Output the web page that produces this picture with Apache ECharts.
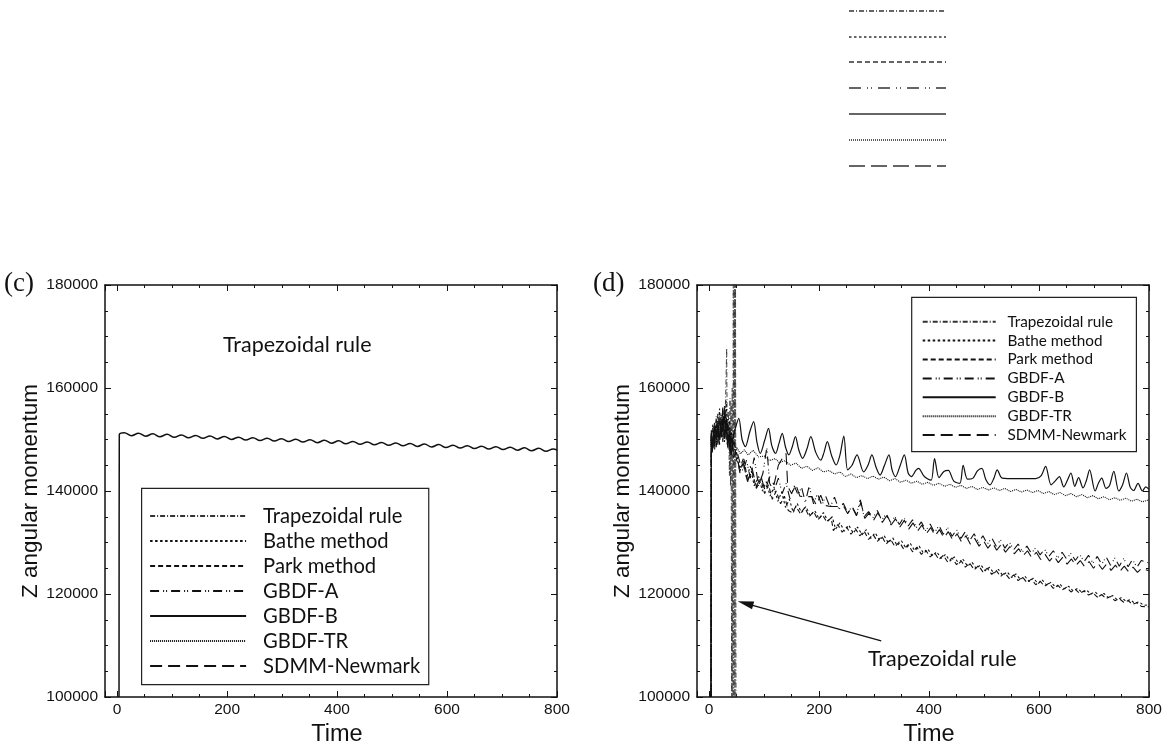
<!DOCTYPE html>
<html>
<head>
<meta charset="utf-8">
<script src="https://cdn.jsdelivr.net/npm/echarts/dist/echarts.min.js"></script>
<style>html,body{margin:0;padding:0;background:#fff}#main{width:1175px;height:743px}</style>
</head>
<body>
<div id="main"></div>
<script>
// legend order, same for both panels
var methodNames = ['Trapezoidal rule', 'Bathe method', 'Park method', 'GBDF-A', 'GBDF-B', 'GBDF-TR', 'SDMM-Newmark'];

// panel (c): the curves all lie on top of each other
var curveC = [[3.5,100000],[4,150900],[13,151300],[26,150750],[39,151200],[52,150650],[65,151100],[78,150550],[91,151000],[104,150430],[117,150880],[130,150330],[143,150780],[156,150230],[169,150670],[182,150120],[195,150570],[208,150020],[221,150460],[234,149910],[247,150360],[260,149810],[273,150260],[286,149700],[299,150150],[312,149600],[325,150050],[338,149500],[351,149940],[364,149390],[377,149840],[390,149290],[403,149740],[416,149180],[429,149630],[442,149080],[455,149530],[468,148980],[481,149420],[494,148870],[507,149320],[520,148770],[533,149220],[546,148660],[559,149110],[572,148560],[585,149010],[598,148460],[611,148900],[624,148350],[637,148800],[650,148250],[663,148700],[676,148140],[689,148590],[702,148040],[715,148490],[728,147930],[741,148380],[754,147830],[767,148280],[780,147730],[793,148170],[800,147950]];

// panel (d)
var trapD = [[3.5,100000],[4,150800],[7,152000],[10,148500],[13,154500],[16,149800],[19,153500],[22,151000],[25,156000],[28,150500],[30,158000],[32,167700],[33,149000],[35,155500],[37,143000],[38,158000],[39,141000],[40,157000],[41,99000],[42,160000],[43,95000],[44,185000],[45,95000],[46,190000],[47,92000],[48,190000],[49,90000],[50,60000]];

var batheD = [[3.5,100000],[4,150000],[7,153000],[10,149500],[13,154000],[16,150500],[19,156000],[22,151500],[25,155000],[28,149500],[31,157500],[34,151000],[37,149000],[40,152000],[44,148000],[50,147200],[56,143800],[62,145800],[68,142500],[75,144800],[82,141000],[90,142800],[97,140000],[104,141800],[111,139000],[118,140800],[125,138000],[132,139800],[139,136800],[146,138400],[153,135800],[160,137600],[168,135800],[176,137000],[184,135200],[192,136200],[200,134600],[208,135800],[216,134200],[224,135000],[230,132600],[238,133800],[246,132200],[254,133400],[262,131800],[270,133000],[278,131500],[286,132500],[294,130800],[302,131900],[310,130400],[318,131400],[326,129900],[334,130900],[342,129400],[350,130300],[358,128900],[366,129800],[374,128400],[382,129300],[390,127900],[398,128700],[406,127400],[414,128200],[422,126900],[430,127700],[438,126400],[446,127200],[454,125900],[462,126700],[470,125400],[478,126200],[486,124900],[494,125700],[502,124500],[510,125200],[518,124000],[526,124800],[534,123600],[542,124300],[550,123200],[558,123900],[566,122800],[574,123500],[582,122400],[590,123100],[598,122000],[606,122700],[614,121700],[622,122300],[630,121300],[638,121900],[646,121000],[654,121500],[662,120600],[670,121100],[678,120300],[686,120800],[694,120000],[702,120400],[710,119600],[718,120100],[726,119300],[734,119700],[742,118900],[750,119300],[758,118600],[766,118900],[774,118200],[782,118500],[790,117800],[800,117900]];

var parkD = [[3.5,100000],[4,151800],[7,148000],[10,152500],[13,150000],[16,155000],[19,149000],[22,153500],[25,150500],[28,156500],[31,152000],[34,149500],[37,153500],[40,148500],[44,151000],[50,146000],[56,144500],[63,146500],[70,142000],[78,143800],[86,140500],[94,142300],[101,139500],[108,141200],[115,138400],[122,140000],[130,137500],[137,139000],[144,136200],[151,135800],[158,137000],[166,135600],[174,136800],[182,135000],[190,136000],[198,134400],[206,135400],[214,134000],[222,134800],[226,132300],[234,133500],[242,132000],[250,133000],[258,131600],[266,132700],[274,131300],[282,132200],[290,130600],[298,131600],[306,130200],[314,131200],[322,129700],[330,130600],[338,129200],[346,130100],[354,128700],[362,129600],[370,128200],[378,129100],[386,127700],[394,128500],[402,127200],[410,128000],[418,126700],[426,127500],[434,126200],[442,127000],[450,125700],[458,126500],[466,125200],[474,126000],[482,124700],[490,125500],[498,124300],[506,125000],[514,123800],[522,124600],[530,123400],[538,124100],[546,123000],[554,123700],[562,122600],[570,123300],[578,122200],[586,122900],[594,121800],[602,122500],[610,121500],[618,122100],[626,121100],[634,121700],[642,120800],[650,121300],[658,120400],[666,120900],[674,120100],[682,120600],[690,119800],[698,120200],[706,119400],[714,119900],[722,119100],[730,119500],[738,118700],[746,119100],[754,118400],[762,118700],[770,118000],[778,118300],[786,117600],[800,117500]];

var gbdfAD = [[3.5,100000],[4,150500],[7,152500],[10,148000],[13,153000],[16,149000],[19,155000],[22,150000],[25,156500],[28,151000],[31,155000],[34,148000],[37,152000],[40,147000],[44,149500],[50,148000],[56,145500],[62,143800],[68,146000],[75,142500],[82,146500],[90,141000],[98,143500],[105,148500],[110,141500],[118,140000],[126,142500],[133,139500],[140,141500],[147,138500],[155,141000],[162,139200],[168,140800],[175,137800],[182,141000],[190,137500],[197,139500],[205,137200],[212,139000],[220,136800],[228,138800],[236,136400],[244,137600],[252,135800],[260,137000],[268,135400],[275,138300],[282,135000],[290,136000],[298,134800],[306,136200],[314,134300],[322,135600],[330,133900],[338,135000],[346,133500],[354,134900],[362,133200],[370,134400],[378,132800],[386,134000],[394,132300],[402,133600],[410,131900],[418,133300],[426,131600],[434,132900],[442,131200],[450,132500],[458,130800],[466,132100],[474,130400],[482,131700],[490,130000],[498,131300],[506,129700],[514,130900],[522,129300],[530,130500],[538,128900],[546,130100],[554,128600],[562,129700],[570,128200],[578,129300],[586,127900],[594,129000],[602,127600],[610,128700],[618,127300],[626,128400],[634,127000],[642,128100],[650,126800],[658,127900],[666,126500],[674,127700],[682,126300],[690,127500],[698,126000],[706,127300],[714,125800],[722,127200],[730,125600],[738,127000],[746,125400],[754,126900],[762,125300],[770,126700],[778,125200],[786,126500],[800,126000]];

var gbdfBD = [[3.5,100000],[4,151200],[6,147500],[8,151800],[10,149000],[12,152500],[14,150000],[16,153200],[18,149500],[20,152000],[22,150500],[25,154000],[28,150200],[31,153500],[34,149000],[37,151200],[40,146800],[44,150500],[48,152300],[54,154100],[60,150000],[66,148600],[74,151500],[81,153460],[87,149500],[93,147300],[101,149800],[108,152170],[114,148800],[121,147300],[127,149200],[133,151200],[139,148500],[145,147000],[151,148500],[157,150550],[163,148000],[170,146350],[178,148200],[185,150550],[194,147500],[203,146000],[209,147500],[215,149580],[223,146800],[231,145050],[238,147000],[245,150680],[252,144100],[260,145000],[269,147000],[281,143700],[289,145000],[296,147000],[304,144500],[311,143100],[319,145000],[327,147000],[333,144000],[339,142800],[347,144800],[355,147000],[362,143500],[368,142800],[376,144000],[381,144400],[390,143000],[397,142400],[404,142100],[410,146300],[418,142600],[427,143800],[435,144000],[445,141900],[456,141500],[462,145000],[470,142300],[480,142500],[488,143900],[496,144400],[503,142300],[511,141200],[518,142500],[524,144100],[533,142500],[560,142400],[594,142400],[604,143000],[612,144800],[622,141200],[630,142000],[637,142800],[645,140800],[652,142200],[658,143500],[665,140900],[672,142600],[680,140600],[686,142000],[692,144100],[702,140000],[708,141500],[714,142500],[722,140500],[728,141000],[736,143800],[745,140000],[752,141200],[759,143500],[766,140700],[772,140100],[780,141500],[788,140000],[794,140800],[800,140300]];

var gbdfTRD = [[3.5,100000],[4,151000],[7,148500],[10,152000],[13,149000],[16,153500],[19,150000],[22,155000],[25,151000],[28,156000],[31,150500],[34,154000],[37,148500],[40,151500],[44,147800],[50,148500],[57,147200],[64,148000],[71,147000],[80,147900],[90,146600],[100,146800],[110,145900],[120,146300],[128,145500],[138,145900],[148,145000],[158,145400],[168,144400],[178,144800],[188,144000],[198,144500],[208,143700],[218,144000],[228,143300],[238,143700],[248,142800],[258,143300],[268,142600],[278,143000],[288,142400],[298,142900],[308,142300],[318,142700],[328,142000],[338,142400],[348,141700],[358,142100],[368,141500],[378,141900],[388,141300],[398,141700],[408,141100],[418,141500],[428,140900],[438,141300],[448,140700],[458,141100],[468,140500],[478,140900],[488,140300],[498,140700],[508,140200],[518,140600],[528,140100],[538,140500],[548,139900],[558,140300],[568,139800],[578,140200],[588,139700],[598,140100],[608,139500],[618,139900],[628,139300],[638,139700],[648,139100],[658,139500],[668,138900],[678,139300],[688,138700],[698,139100],[708,138500],[718,138900],[728,138300],[738,138700],[748,138200],[758,138600],[768,138000],[778,138400],[788,137900],[800,138300]];

var sdmmD = [[3.5,100000],[4,151500],[7,149000],[10,153500],[13,148500],[16,152000],[19,150500],[22,154500],[25,149500],[28,155500],[31,150000],[34,153000],[37,147500],[40,150800],[44,146500],[50,147500],[56,143500],[62,145500],[70,141800],[78,144500],[86,140800],[94,143000],[102,140000],[110,142800],[118,141200],[126,145000],[134,146500],[140,147300],[143,140900],[150,139500],[158,141200],[165,139000],[172,138900],[187,138900],[195,137300],[203,139200],[210,137200],[221,137000],[245,137000],[252,135600],[260,136900],[268,135200],[276,137800],[283,134700],[291,135700],[299,134300],[307,135800],[315,133900],[323,135200],[331,133400],[339,134600],[347,133000],[355,134300],[363,132600],[371,133800],[379,132200],[387,133400],[395,131700],[403,132900],[411,131300],[419,132500],[427,130900],[435,132100],[443,130500],[451,131700],[459,130100],[467,131300],[475,129700],[483,130800],[491,129300],[499,130400],[507,128900],[515,130000],[523,128500],[531,129600],[539,128100],[547,129200],[555,127800],[563,128800],[571,127400],[579,128400],[587,127000],[595,128100],[603,126700],[611,127700],[619,126400],[627,127400],[635,126100],[643,127100],[651,125800],[659,126800],[667,125500],[675,126500],[683,125300],[691,126300],[699,125000],[707,126000],[715,124800],[723,125800],[731,124600],[739,125600],[747,124400],[755,125400],[763,124300],[771,125200],[779,124200],[787,125000],[800,124500]];

// arrow in (d): from the label to the blow-up
var arrowFrom = [313, 110900];
var arrowTo = [66, 118200];

var dash = {
  'Trapezoidal rule': [5, 2, 1, 2],
  'Bathe method': [2.5, 2.5],
  'Park method': [5, 3],
  'GBDF-A': [9, 4, 1, 2, 1, 4],
  'GBDF-B': 'solid',
  'GBDF-TR': [1, 1],
  'SDMM-Newmark': [12, 6]
};

var ink = '#111';
var tickFont = 'Liberation Sans, Arial, sans-serif';
var textFont = 'Lato, sans-serif';

function xAx(grid, pos) {
  var bottom = pos === 'bottom';
  return {
    type: 'value', gridIndex: grid, position: pos, min: -22, max: 800,
    axisLine: {show: true, onZero: false, lineStyle: {color: ink, width: 1.5}},
    axisTick: {show: true, inside: true, length: 6, lineStyle: {color: ink, width: 1}},
    minorTick: {show: true, splitNumber: 4, length: 3, lineStyle: {color: ink, width: 1}},
    splitLine: {show: false}, minorSplitLine: {show: false},
    axisLabel: {show: bottom, showMinLabel: false, margin: 5, color: ink, fontFamily: tickFont, fontSize: 15.5,
      formatter: function (v) { return String(v); }},
    name: bottom ? 'Time' : '', nameLocation: 'middle', nameGap: 19,
    nameTextStyle: {color: ink, fontFamily: tickFont, fontSize: 23.5, padding: [0, 0, 0, 12]}
  };
}

function yAx(grid, pos) {
  var left = pos === 'left';
  return {
    type: 'value', gridIndex: grid, position: pos, min: 100000, max: 180000, interval: 20000,
    axisLine: {show: true, onZero: false, lineStyle: {color: ink, width: 1.5}},
    axisTick: {show: true, inside: true, length: 6, lineStyle: {color: ink, width: 1}},
    minorTick: {show: true, splitNumber: 4, length: 3, lineStyle: {color: ink, width: 1}},
    splitLine: {show: false}, minorSplitLine: {show: false},
    axisLabel: {show: left, margin: 7, color: ink, fontFamily: tickFont, fontSize: 15.5,
      formatter: function (v) { return String(v); }},
    name: left ? 'Z angular momentum' : '', nameLocation: 'middle', nameGap: 60,
    nameTextStyle: {color: ink, fontFamily: tickFont, fontSize: 22.5}
  };
}

function line(name, data, grid, width, smooth, color) {
  return {
    name: name, type: 'line', data: data,
    xAxisIndex: grid * 2, yAxisIndex: grid * 2,
    symbol: 'none', smooth: smooth || false, clip: true,
    itemStyle: {color: color || ink},
    lineStyle: {color: color || ink, width: width, type: dash[name]}
  };
}

var seriesD = [
  line('Trapezoidal rule', trapD, 1, 0.9, false, '#333'),
  line('Bathe method', batheD, 1, 1.1),
  line('Park method', parkD, 1, 1.1),
  line('GBDF-A', gbdfAD, 1, 1.1),
  line('GBDF-B', gbdfBD, 1, 1.2, 0.3),
  line('GBDF-TR', gbdfTRD, 1, 1.1),
  line('SDMM-Newmark', sdmmD, 1, 1.1)
];
seriesD[0].markLine = {
  silent: true, animation: false, symbol: ['none', 'triangle'], symbolSize: [8, 16],
  label: {show: false},
  lineStyle: {color: ink, width: 1.3, type: 'solid'},
  data: [[{coord: arrowFrom}, {coord: arrowTo}]]
};

var seriesC = [line('GBDF-B', curveC, 0, 1.5, 0.4)];

// loose legend samples at the top of the page
var topLines = [];
var topDash = [[5, 2, 1, 2], [2.5, 2.5], [5, 3], [12, 6, 1, 3, 1, 6], null, [1, 1], [16, 6]];
var topY = [11, 37, 62, 88, 114, 140, 166];
for (var i = 0; i < topY.length; i++) {
  topLines.push({
    type: 'line', shape: {x1: 849, y1: topY[i], x2: 946, y2: topY[i]},
    style: {stroke: '#333', lineWidth: 1.6, lineDash: topDash[i]}
  });
}

var hiddenMark = {color: 'rgba(0,0,0,0)', borderColor: 'rgba(0,0,0,0)', borderWidth: 0};

var chart = echarts.init(document.getElementById('main'));
chart.setOption({
  animation: false,
  backgroundColor: '#fff',
  grid: [
    {left: 105, top: 285, width: 452, height: 412, outerBoundsMode: 'none'},
    {left: 697, top: 285, width: 452, height: 412, outerBoundsMode: 'none'}
  ],
  xAxis: [xAx(0, 'bottom'), xAx(0, 'top'), xAx(1, 'bottom'), xAx(1, 'top')],
  yAxis: [yAx(0, 'left'), yAx(0, 'right'), yAx(1, 'left'), yAx(1, 'right')],
  legend: [
    {
      data: methodNames, orient: 'vertical', left: 141.6, top: 488.3,
      padding: [17.7, 8.6, 8.7, 7.5], itemWidth: 96, itemHeight: 14, itemGap: 5.0,
      borderColor: '#222', borderWidth: 1.2, backgroundColor: '#fff', selectedMode: false,
      itemStyle: hiddenMark,
      textStyle: {color: ink, fontFamily: textFont, fontSize: 20.2, lineHeight: 20, padding: [0, 0, 0, 12]}
    },
    {
      data: methodNames, orient: 'vertical', left: 911.7, top: 297.3,
      padding: [16.9, 10, 9.1, 10], itemWidth: 73, itemHeight: 12, itemGap: 3.9,
      borderColor: '#222', borderWidth: 1.2, backgroundColor: '#fff', selectedMode: false,
      itemStyle: hiddenMark,
      textStyle: {color: ink, fontFamily: textFont, fontSize: 15.3, lineHeight: 15, padding: [0, 0, 0, 6.7]}
    }
  ],
  graphic: topLines.concat([
    {type: 'text', left: 4, top: 270, style: {text: '(c)', fill: ink, font: '27px "Liberation Serif", serif'}},
    {type: 'text', left: 593, top: 270, style: {text: '(d)', fill: ink, font: '27px "Liberation Serif", serif'}},
    {type: 'text', left: 223, top: 334, style: {text: 'Trapezoidal rule', fill: ink, font: '21.5px Lato, sans-serif'}},
    {type: 'text', left: 868, top: 648, style: {text: 'Trapezoidal rule', fill: ink, font: '21.5px Lato, sans-serif'}}
  ]),
  series: seriesD.concat(seriesC)
});
</script>
</body>
</html>
